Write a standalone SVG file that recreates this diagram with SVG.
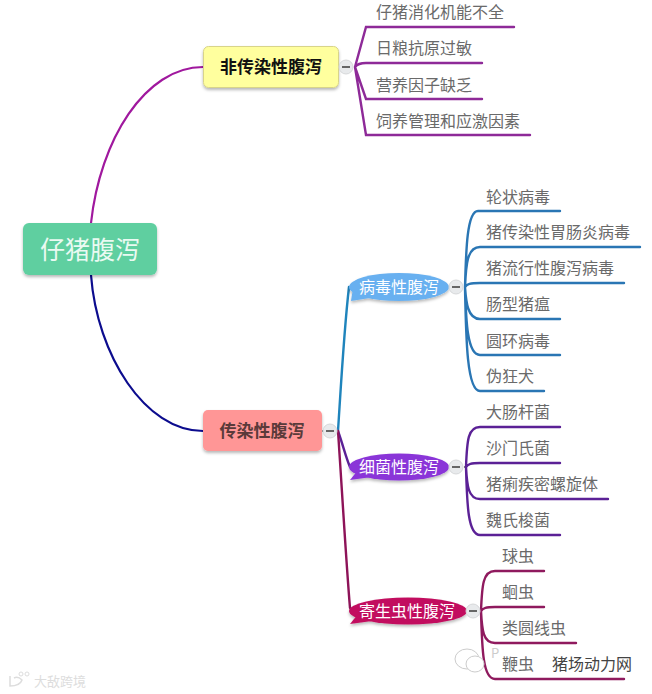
<svg xmlns="http://www.w3.org/2000/svg" width="652" height="694" viewBox="0 0 652 694">
<style>
text{font-family:"Noto Sans CJK SC","Liberation Sans",sans-serif}
.leaf{font-size:16px;fill:#6a6a6a}
.c{fill:none;stroke-width:2.400;stroke-linecap:round}
.p{stroke:#8e2a98}.b{stroke:#2a76b4}.v{stroke:#5b2196}.r{stroke:#8f1a5e}
.t{font-size:16px;fill:#fff;text-anchor:middle}
.k{fill:#e8eaec;stroke:#d6d8da}
.m{stroke:#666;stroke-width:2}
.d{stroke:#555;stroke-width:1.500;stroke-dasharray:2 3}
.w{fill:#fff;stroke:#ccc}
</style>
<defs>
<filter id="s" x="-10%" y="-20%" width="120%" height="150%"><feDropShadow dx="0" dy="2" stdDeviation="1.500" flood-color="#000" flood-opacity=".28"/></filter>
</defs>
<rect width="652" height="694" fill="#fff"/>
<g id="connectors">
<path d="M91 223C100 140 145 67 203 67" fill="none" stroke="#a0189e" stroke-width="2.200"/>
<path d="M91 275C97 355 145 431 203 431" fill="none" stroke="#0c0c8e" stroke-width="2.200"/>
<path class="d" d="M322 431H338"/><path class="d" d="M339 67H355"/><path class="d" d="M449 287H465"/><path class="d" d="M449 467H466"/><path class="d" d="M467 611H481"/>
<path class="c" style="stroke:#1f84bc" d="M338 431C341 385 344 330 349 287"/>
<path class="c v" d="M338 431C343 445 346 458 350 467"/>
<path class="c" style="stroke:#8d1358" d="M338 431C342 490 346 560 350 608"/>
<path class="c p" d="M355 67L366 27H514M355 67Q358 63 366 63H482M355 67L366 99H482M355 67L366 135H530"/>
<path class="c b" d="M465 287C466 250 467 211 478 211H560M465 287C466 265 467 247 480 247H640M465 287C467 284 470 283 480 283H624M465 287C466 300 467 319 480 319H560M465 287C466 320 467 355 480 355H560M465 287C466 340 467 391 480 391H544"/>
<path class="c v" d="M466 467C467 440 468 427 480 427H560M466 467C468 464 471 463 480 463H560M466 467C467 485 468 499 480 499H608M466 467C467 505 468 535 480 535H560"/>
<path class="c r" d="M481 611C482 585 483 571 495 571H544M481 611C483 608 486 607 495 607H544M481 611C482 630 483 643 495 643H576M481 611C482 650 483 679 495 679H624"/>
</g>
<g id="root"><rect x="23" y="223" width="134" height="52" rx="6" fill="#5ecfa0" filter="url(#s)"/><text x="90" y="259" font-size="25" fill="#eafaf2" text-anchor="middle">仔猪腹泻</text></g>
<g id="n1"><rect x="203.500" y="46.500" width="135" height="41" rx="5" fill="#ffff9e" stroke="#d8d48a" filter="url(#s)"/><text x="271" y="73" font-size="17" font-weight="700" fill="#111" text-anchor="middle">非传染性腹泻</text></g>
<g id="n2"><rect x="203" y="410" width="119" height="41" rx="5" fill="#ff9696" filter="url(#s)"/><text x="262" y="437" font-size="17" font-weight="700" fill="#5a3a3a" text-anchor="middle">传染性腹泻</text></g>
<g id="virus"><g filter="url(#s)" fill="#68b0f0"><ellipse cx="399" cy="287" rx="50" ry="14"/><path d="M351 301L353 288L370 298Z"/></g><text class="t" x="399" y="293">病毒性腹泻</text></g>
<g id="bacteria"><g filter="url(#s)" fill="#8a35d8"><ellipse cx="399" cy="467" rx="50" ry="13.500"/><path d="M350 480L358 470L372 477Z"/></g><text class="t" x="399" y="473">细菌性腹泻</text></g>
<g id="parasite"><g filter="url(#s)" fill="#c2105e"><ellipse cx="408" cy="611" rx="59" ry="13.500"/><path d="M350 624L358 614L372 621Z"/></g><text class="t" x="407" y="617">寄生虫性腹泻</text></g>
<g id="toggles">
<g id="t1"><circle class="k" cx="346" cy="67" r="7"/><path class="m" d="M342 67H350"/></g>
<g id="t2"><circle class="k" cx="330" cy="431" r="7"/><path class="m" d="M326 431H334"/></g>
<g id="t3"><circle class="k" cx="456" cy="287" r="7"/><path class="m" d="M452 287H460"/></g>
<g id="t4"><circle class="k" cx="456" cy="467" r="7"/><path class="m" d="M452 467H460"/></g>
<g id="t5"><circle class="k" cx="473" cy="611" r="7"/><path class="m" d="M469 611H477"/></g>
</g>
<g id="leaves-1" class="leaf"><text x="376" y="18">仔猪消化机能不全</text><text x="376" y="54">日粮抗原过敏</text><text x="376" y="91">营养因子缺乏</text><text x="376" y="127">饲养管理和应激因素</text></g>
<g id="leaves-2" class="leaf"><text x="486" y="203">轮状病毒</text><text x="486" y="238">猪传染性胃肠炎病毒</text><text x="486" y="274">猪流行性腹泻病毒</text><text x="486" y="310">肠型猪瘟</text><text x="486" y="347">圆环病毒</text><text x="486" y="382">伪狂犬</text></g>
<g id="leaves-3" class="leaf"><text x="486" y="418">大肠杆菌</text><text x="486" y="454">沙门氏菌</text><text x="486" y="490">猪痢疾密螺旋体</text><text x="486" y="526">魏氏梭菌</text></g>
<g id="leaves-4" class="leaf"><text x="502" y="562">球虫</text><text x="502" y="598">蛔虫</text><text x="502" y="634">类圆线虫</text><text x="502" y="670">鞭虫</text></g>
<g id="watermark">
<text x="491" y="658" font-size="13" fill="#ccc" font-family="Liberation Sans">P</text>
<text x="552" y="670" font-size="16" fill="#444">猪场动力网</text>
<ellipse class="w" cx="467" cy="659" rx="12" ry="10"/><ellipse class="w" cx="475" cy="664" rx="9" ry="8"/>
<path d="M10 676V686Q20 686 22 680Q18 676 14 678" fill="none" stroke="#ddd" stroke-width="1.500"/><circle cx="21" cy="674" r="2" fill="none" stroke="#ddd"/><circle cx="27" cy="674" r="2" fill="none" stroke="#ddd"/>
<text x="34" y="686" font-size="13" fill="#ddd">大敌跨境</text>
</g>
</svg>
